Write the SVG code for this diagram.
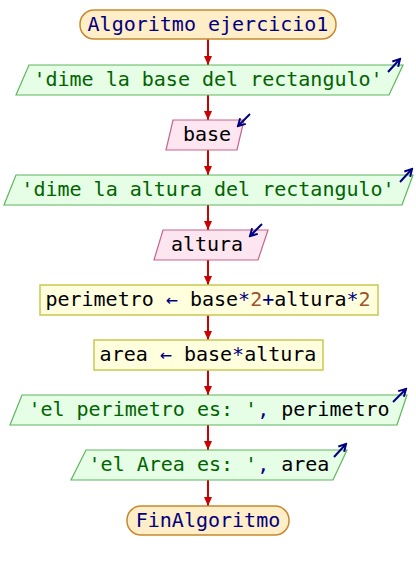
<svg xmlns="http://www.w3.org/2000/svg" width="416" height="570" viewBox="0 0 416 570">
  <defs>
    <marker id="flow" markerUnits="userSpaceOnUse" markerWidth="10" markerHeight="8" refX="9" refY="4" orient="auto">
      <path d="M0,0 L9,4 L0,8 Z" fill="#cc0000"/>
    </marker>
    <marker id="io" markerUnits="userSpaceOnUse" markerWidth="10" markerHeight="10" refX="8" refY="5" orient="auto">
      <path d="M1,1 L8,5 L1,9" fill="none" stroke="#000080" stroke-width="2"/>
    </marker>
  </defs>
  <style>
    text { font-family: "DejaVu Sans Mono", "Liberation Mono", monospace; font-size: 20px; text-anchor: middle; fill: #000000; }
    .term { fill: #ffeec8; stroke: #c8892e; stroke-width: 1.5; }
    .out { fill: #e6fde6; stroke: #5cb85c; stroke-width: 1.2; }
    .in { fill: #fde6ef; stroke: #c8628a; stroke-width: 1.2; }
    .proc { fill: #ffffde; stroke: #c8c850; stroke-width: 1.5; }
    .kw { fill: #000080; }
    .str { fill: #006400; }
    .op { fill: #000080; }
    .num { fill: #a0522d; }
    .flow { stroke: #cc0000; stroke-width: 2; fill: none; marker-end: url(#flow); }
    .ioarrow { stroke: #000080; stroke-width: 2; fill: none; marker-end: url(#io); }
  </style>

  <g id="connectors">
    <line class="flow" x1="208" y1="39" x2="208" y2="65"/>
    <line class="flow" x1="208" y1="95" x2="208" y2="120"/>
    <line class="flow" x1="208" y1="150" x2="208" y2="175"/>
    <line class="flow" x1="208" y1="205" x2="208" y2="230"/>
    <line class="flow" x1="208" y1="260" x2="208" y2="285"/>
    <line class="flow" x1="208" y1="315" x2="208" y2="340"/>
    <line class="flow" x1="208" y1="370" x2="208" y2="395"/>
    <line class="flow" x1="208" y1="425" x2="208" y2="450"/>
    <line class="flow" x1="208" y1="480" x2="208" y2="506"/>
  </g>

  <g id="start">
    <rect class="term" x="80" y="10" width="256" height="29" rx="14" ry="14"/>
    <text x="208" y="31" class="kw">Algoritmo ejercicio1</text>
  </g>

  <g id="out1">
    <polygon class="out" points="29,65 403,65 389,95 16,95"/>
    <text x="208" y="86" class="str">'dime la base del rectangulo'</text>
    <line class="ioarrow" x1="388" y1="72" x2="400" y2="59"/>
  </g>

  <g id="in1">
    <polygon class="in" points="173,120 244,120 237,150 166,150"/>
    <text x="207" y="141">base</text>
    <line class="ioarrow" x1="250" y1="114" x2="238" y2="126"/>
  </g>

  <g id="out2">
    <polygon class="out" points="16,175 413,175 402,205 4,205"/>
    <text x="208" y="196" class="str">'dime la altura del rectangulo'</text>
    <line class="ioarrow" x1="400" y1="182" x2="412" y2="169"/>
  </g>

  <g id="in2">
    <polygon class="in" points="163,230 268,230 258,260 154,260"/>
    <text x="207" y="251">altura</text>
    <line class="ioarrow" x1="262" y1="224" x2="250" y2="236"/>
  </g>

  <g id="proc1">
    <rect class="proc" x="40" y="285" width="338" height="30"/>
    <text x="208" y="306">perimetro <tspan class="op">←</tspan> base<tspan class="op">*</tspan><tspan class="num">2</tspan><tspan class="op">+</tspan>altura<tspan class="op">*</tspan><tspan class="num">2</tspan></text>
  </g>

  <g id="proc2">
    <rect class="proc" x="94" y="340" width="229" height="30"/>
    <text x="208" y="361">area <tspan class="op">←</tspan> base<tspan class="op">*</tspan>altura</text>
  </g>

  <g id="out3">
    <polygon class="out" points="22,395 407,395 397,425 10,425"/>
    <text x="209" y="416"><tspan class="str">'el perimetro es: '</tspan><tspan class="op">,</tspan> perimetro</text>
    <line class="ioarrow" x1="393" y1="402" x2="406" y2="389"/>
  </g>

  <g id="out4">
    <polygon class="out" points="86,450 347,450 333,480 71,480"/>
    <text x="209" y="471"><tspan class="str">'el Area es: '</tspan><tspan class="op">,</tspan> area</text>
    <line class="ioarrow" x1="334" y1="457" x2="346" y2="444"/>
  </g>

  <g id="end">
    <rect class="term" x="127" y="506" width="162" height="29" rx="14" ry="14"/>
    <text x="208" y="527" class="kw">FinAlgoritmo</text>
  </g>
</svg>
